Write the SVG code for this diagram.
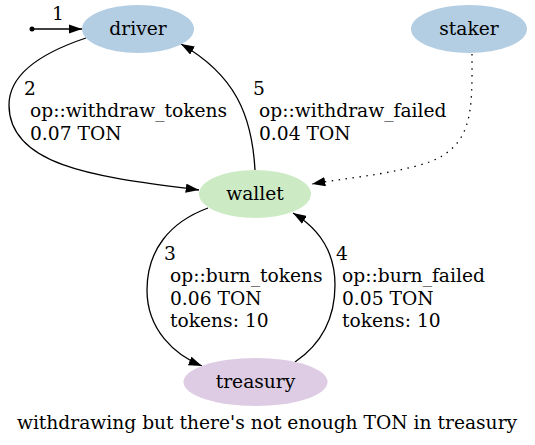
<svg xmlns="http://www.w3.org/2000/svg" width="535" height="445" viewBox="0 0 535 445">
<style>
text { font-family: "DejaVu Serif", serif; font-size: 18.67px; fill: #000; }
.c { text-anchor: middle; }
.e { fill: none; stroke: #000; stroke-width: 1.3; }
.dot { stroke-dasharray: 1.5 5.5; }
</style>
<defs>
<marker id="ah" viewBox="0 0 13.3 9.3" refX="13.3" refY="4.65" markerWidth="13.3" markerHeight="9.3" markerUnits="userSpaceOnUse" orient="auto">
<path d="M0,0 L13.3,4.65 L0,9.3 z" fill="#000"/>
</marker>
</defs>
<rect width="535" height="445" fill="#fff"/>
<g id="connectors">
  <circle cx="32" cy="29" r="2.5" fill="#000"/>
  <path class="e" d="M32,29 L82,29" marker-end="url(#ah)"/>
  <text x="58" y="20" class="c">1</text>
  <path class="e" d="M86,38 C50,50 9,70 9,105 C9,170 110,178 199,190" marker-end="url(#ah)"/>
  <text x="24" y="95">2</text>
  <text x="30" y="117.4">op::withdraw_tokens</text>
  <text x="30" y="139.8">0.07 TON</text>
  <path class="e" d="M255,170 C252,115 235,75 181,44" marker-end="url(#ah)"/>
  <text x="253" y="95">5</text>
  <text x="259" y="117.4">op::withdraw_failed</text>
  <text x="259" y="139.8">0.04 TON</text>
  <path class="e dot" d="M472,54 C472,110 475,150 420,165 C380,176 345,178 312,184" marker-end="url(#ah)"/>
  <path class="e" d="M208,208 C170,222 147,250 147,290 C147,330 175,355 202,366" marker-end="url(#ah)"/>
  <text x="164" y="260">3</text>
  <text x="170" y="282.4">op::burn_tokens</text>
  <text x="170" y="304.8">0.06 TON</text>
  <text x="170" y="327.2">tokens: 10</text>
  <path class="e" d="M295,362 C320,345 335,320 335,285 C335,250 318,228 293,213" marker-end="url(#ah)"/>
  <text x="336" y="260">4</text>
  <text x="342" y="282.4">op::burn_failed</text>
  <text x="342" y="304.8">0.05 TON</text>
  <text x="342" y="327.2">tokens: 10</text>
</g>
<g id="driver">
  <ellipse cx="138" cy="29" rx="56" ry="24" fill="#b3cde3"/>
  <text x="138" y="35" class="c">driver</text>
</g>
<g id="staker">
  <ellipse cx="469" cy="29" rx="58" ry="24" fill="#b3cde3"/>
  <text x="469" y="35" class="c">staker</text>
</g>
<g id="wallet">
  <ellipse cx="255" cy="194" rx="56" ry="24" fill="#ccebc5"/>
  <text x="255" y="200" class="c">wallet</text>
</g>
<g id="treasury">
  <ellipse cx="255.5" cy="382" rx="72" ry="24" fill="#decbe4"/>
  <text x="255.5" y="388" class="c">treasury</text>
</g>
<text x="267" y="429" class="c">withdrawing but there's not enough TON in treasury</text>
</svg>
